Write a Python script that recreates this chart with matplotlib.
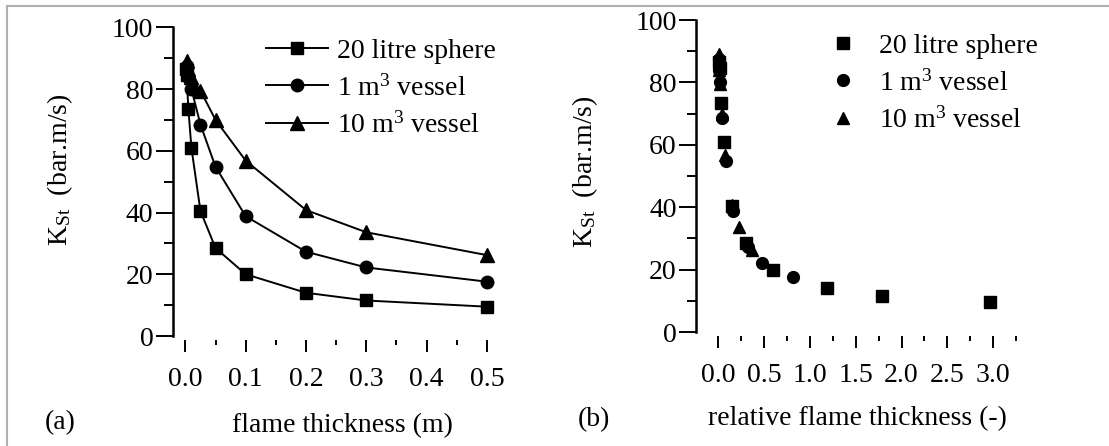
import matplotlib
matplotlib.use('Agg')
from matplotlib import pyplot as plt
from matplotlib.ticker import MultipleLocator
from matplotlib.lines import Line2D


# Data
# (a) flame thickness in metres
sphere_x = [0.001, 0.002, 0.005, 0.01, 0.025, 0.05, 0.1, 0.2, 0.3, 0.5]
sphere_k = [86.5, 84.5, 73.5, 61.0, 40.5, 28.5, 20.0, 14.0, 11.5, 9.5]

vessel1_x = [0.002, 0.005, 0.01, 0.025, 0.05, 0.1, 0.2, 0.3, 0.5]
vessel1_k = [87.5, 84.0, 80.0, 68.5, 54.8, 38.8, 27.3, 22.2, 17.6]

vessel10_x = [0.002, 0.005, 0.01, 0.025, 0.05, 0.1, 0.2, 0.3, 0.5]
vessel10_k = [89.0, 86.5, 84.0, 79.5, 70.0, 56.8, 40.8, 33.6, 26.2]

# (b) relative flame thickness (-)
sphere_rel = [0.006, 0.012, 0.03, 0.06, 0.15, 0.30, 0.60, 1.19, 1.79, 2.97]
vessel1_rel = [0.003, 0.008, 0.016, 0.04, 0.08, 0.16, 0.32, 0.48, 0.81]
vessel10_rel = [0.0015, 0.004, 0.0075, 0.019, 0.037, 0.075, 0.15, 0.22, 0.37]

labels = ['20 litre sphere', '1 m$^3$ vessel', '10 m$^3$ vessel']


plt.rcParams['font.family'] = ['Liberation Serif', 'DejaVu Serif']
plt.rcParams['mathtext.fontset'] = 'custom'
plt.rcParams['mathtext.rm'] = 'Liberation Serif'
plt.rcParams['mathtext.it'] = 'Liberation Serif:italic'
plt.rcParams['font.size'] = 20

fig = plt.figure(figsize=(11.09, 4.46), dpi=100)
W, H = 1109.0, 446.0


def px_axes(left, right, top, bottom):
    return fig.add_axes([left / W, 1 - bottom / H, (right - left) / W, (bottom - top) / H])


def style_axes(ax, major, minor):
    for s in ['top', 'right']:
        ax.spines[s].set_visible(False)
    ax.spines['bottom'].set_visible(False)
    ax.spines['bottom'].set_position(('outward', 3))
    ax.spines['left'].set_linewidth(1.8)
    ax.set_ylim(0, 100)
    ax.yaxis.set_major_locator(MultipleLocator(20))
    ax.yaxis.set_minor_locator(MultipleLocator(10))
    ax.xaxis.set_major_locator(MultipleLocator(major))
    ax.xaxis.set_minor_locator(MultipleLocator(minor))
    ax.xaxis.set_major_formatter(plt.FormatStrFormatter('%.1f'))
    ax.tick_params(axis='y', which='major', direction='out', length=12, width=1.4, pad=2)
    ax.tick_params(axis='y', which='minor', direction='out', length=6.5, width=1.4)
    ax.tick_params(axis='x', which='major', direction='out', length=8.5, width=1.4, pad=11)
    ax.tick_params(axis='x', which='minor', direction='out', length=3.5, width=1.4)
    ax.set_ylabel('K$_{\\mathrm{St}}$  (bar.m/s)')


# Panel (a)
ax1 = px_axes(172.7, 499, 27.3, 336)
style_axes(ax1, 0.1, 0.05)
ax1.set_xlim(-0.021, 0.52)
ax1.plot(sphere_x, sphere_k, color='black', lw=1.4, marker='s', ms=9, label=labels[0])
ax1.plot(vessel1_x, vessel1_k, color='black', lw=1.4, marker='o', ms=9, label=labels[1])
ax1.plot(vessel10_x, vessel10_k, color='black', lw=1.4, marker='^', ms=10, label=labels[2])
ax1.set_xlabel('flame thickness (m)')
ax1.xaxis.set_label_coords(0.519, -0.25)
ax1.yaxis.set_label_coords(-0.30, 0.538)
ax1.legend(loc='upper left', bbox_to_anchor=(0.286, 0.965), frameon=False,
           borderpad=0, borderaxespad=0, handlelength=2.23, handletextpad=0.32,
           labelspacing=0.4)

# Panel (b)
ax2 = px_axes(696, 1020.5, 20, 332)
style_axes(ax2, 0.5, 0.25)
ax2.set_xlim(-0.245, 3.3)
ax2.plot(sphere_rel, sphere_k, ls='none', color='black', marker='s', ms=8, label=labels[0])
ax2.plot(vessel1_rel, vessel1_k, ls='none', color='black', marker='o', ms=8.5, label=labels[1])
ax2.plot(vessel10_rel, vessel10_k, ls='none', color='black', marker='^', ms=8.5, label=labels[2])
ax2.set_xlabel('relative flame thickness (-)')
ax2.xaxis.set_label_coords(0.496, -0.237)
ax2.yaxis.set_label_coords(-0.296, 0.513)
ax2.legend(loc='upper left', bbox_to_anchor=(0.41, 0.958), frameon=False,
           borderpad=0, borderaxespad=0, handlelength=1.0, handletextpad=0.8,
           labelspacing=0.4)

# Panel letters
fig.text(60 / W, 1 - 423 / H, '(a)', ha='center', va='center')
fig.text(594 / W, 1 - 420 / H, '(b)', ha='center', va='center')

# Gray frame at top and left of the scan
fig.add_artist(Line2D([7 / W, 1], [1 - 6 / H, 1 - 6 / H], color='#b0b0b0', lw=1.5))
fig.add_artist(Line2D([7 / W, 7 / W], [0, 1 - 6 / H], color='#b0b0b0', lw=1.5))

fig.savefig('out.png', dpi=100)
